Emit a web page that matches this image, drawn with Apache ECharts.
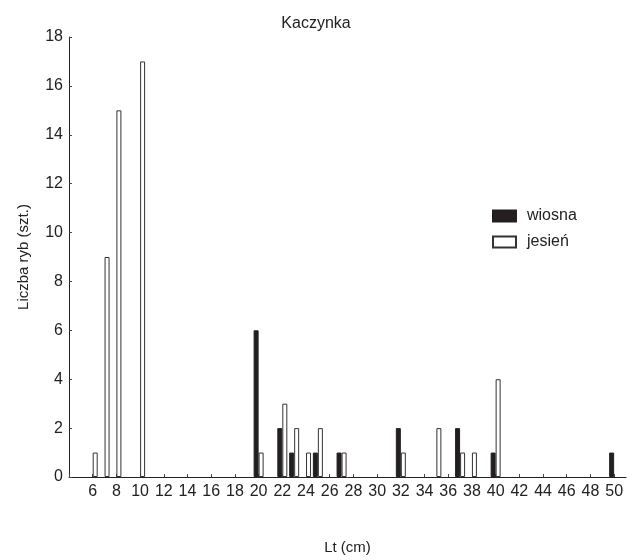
<!DOCTYPE html>
<html><head><meta charset="utf-8">
<script src="https://cdn.jsdelivr.net/npm/echarts@6/dist/echarts.min.js"></script>
<style>html,body{margin:0;padding:0;background:#fff}#c{width:627px;height:560px}</style>
</head><body><div id="c"></div>
<script>
const wiosnaLengths = [20, 22, 23, 25, 27, 32, 37, 40, 50];
const wiosnaCounts  = [6, 2, 1, 1, 1, 2, 2, 1, 1];
const jesienLengths = [6, 7, 8, 10, 20, 22, 23, 24, 25, 27, 32, 35, 37, 38, 40];
const jesienCounts  = [1, 9, 15, 17, 1, 3, 2, 1, 2, 1, 1, 2, 1, 1, 4];
const yTicks = [0, 2, 4, 6, 8, 10, 12, 14, 16, 18];

const FONT = '"Liberation Sans Narrow", "Liberation Sans", Arial, sans-serif';
const chart = echarts.init(document.getElementById('c'));
chart.setOption({
  animation: false,
  title: { text: 'Kaczynka', left: 311, top: 11, textAlign: 'center',
    textStyle: { fontFamily: FONT, fontSize: 16, fontWeight: 'normal', color: '#222' } },
  legend: {
    orient: 'vertical', left: 487, top: 203, itemWidth: 23, itemHeight: 11, itemGap: 10,
    icon: 'rect',
    textStyle: { fontFamily: FONT, fontSize: 16, color: '#222', padding: [0, 0, 0, 6] },
    data: ['wiosna', 'jesień']
  },
  grid: { left: 69, right: 1, top: 37, bottom: 81, containLabel: false },
  xAxis: {
    type: 'value', min: 4, max: 51, interval: 2,
    name: 'Lt (cm)', nameLocation: 'middle', nameGap: 63,
    nameTextStyle: { fontFamily: FONT, fontSize: 15, color: '#222' },
    axisLine: { show: true, lineStyle: { color: '#222', width: 1 } },
    axisTick: { show: true, inside: true, length: 3, lineStyle: { color: '#444' } },
    splitLine: { show: false },
    axisLabel: { fontFamily: FONT, fontSize: 16, color: '#222', margin: 7, showMaxLabel: false,
      formatter: v => (v >= 6 && v <= 50 && v % 2 === 0) ? String(v) : '' }
  },
  yAxis: {
    type: 'value', min: 0, max: 18, interval: 2,
    name: 'Liczba ryb (szt.)', nameLocation: 'middle', nameGap: 38, nameRotate: 90,
    nameTextStyle: { fontFamily: FONT, fontSize: 15, color: '#222' },
    axisLine: { show: true, lineStyle: { color: '#222', width: 1 } },
    axisTick: { show: true, inside: true, length: 3, lineStyle: { color: '#444' } },
    splitLine: { show: false },
    axisLabel: { fontFamily: FONT, fontSize: 16, color: '#222', margin: 6,
      formatter: v => yTicks.includes(v) ? String(v) : '' }
  },
  series: [
    { name: 'wiosna', type: 'bar', barWidth: 5, barGap: '0%',
      itemStyle: { color: '#231f20', borderColor: '#231f20', borderWidth: 1 },
      data: wiosnaLengths.map((x, i) => [x, wiosnaCounts[i]]) },
    { name: 'jesień', type: 'bar', barWidth: 5, barGap: '0%',
      itemStyle: { color: '#ffffff', borderColor: '#333', borderWidth: 1 },
      data: jesienLengths.map((x, i) => [x, jesienCounts[i]]) }
  ]
});
</script></body></html>
